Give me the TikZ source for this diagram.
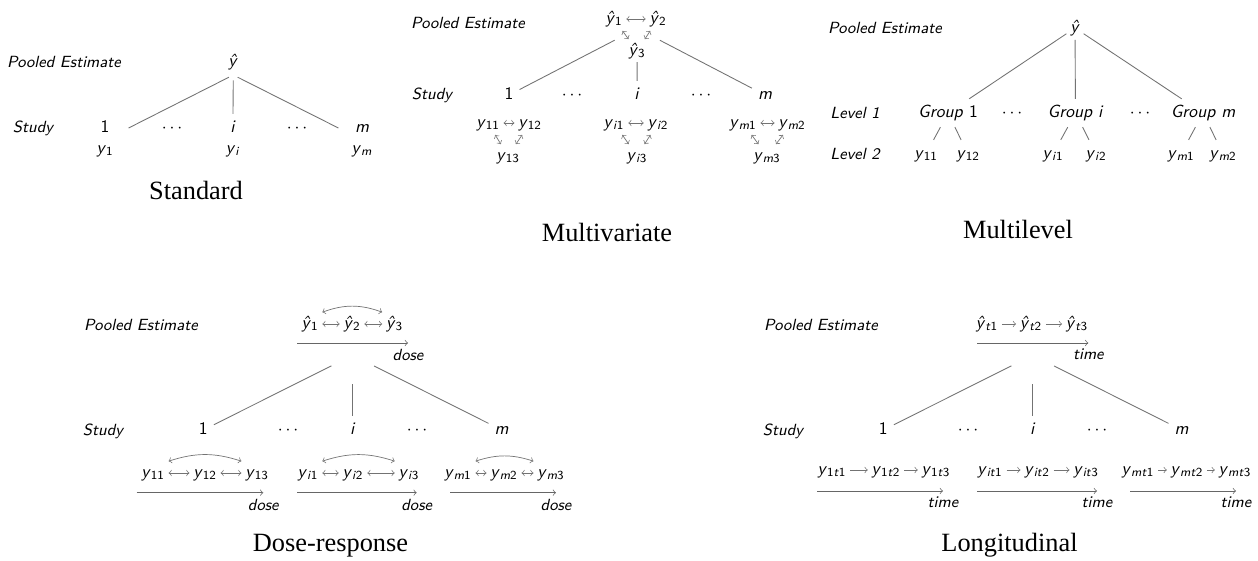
\documentclass[tikz,border=0pt]{standalone}
\usepackage{fontspec}
\newfontfamily\titlefont{Liberation Serif}
\usetikzlibrary{positioning}
\newcommand{\yv}[1]{\textit{y}\textsubscript{#1}}
\newcommand{\yh}[1]{\textit{\^y}\textsubscript{#1}}
\tikzset{
	>=to,
	lbl/.style={font=\fontsize{9.2}{11}\selectfont\sffamily\itshape},
	num/.style={
		font=\fontsize{10}{12}\selectfont\sffamily,
		text height=1.6ex,
		text depth=.5ex},
	var/.style={num, inner sep=2pt},
	ttl/.style={font=\fontsize{15}{18}\selectfont\titlefont},
	hub/.style 2 args={inner sep=0pt, minimum width=#1, minimum height=#2},
	edge/.style={draw=black!55, line width=.5pt},
	dep/.style={draw=black!55, line width=.4pt, <->},
	seq/.style={draw=black!55, line width=.4pt, ->},
	axis/.style={draw=black!60, line width=.4pt, ->},
}
\begin{document}
\begin{tikzpicture}[x=0.02cm, y=-0.02cm]
	\useasboundingbox (0,0) rectangle (1258,561);
	% standard
	\node[lbl] (pA) at (64,62) {Pooled Estimate};
	\node[lbl] (sA) at (33,128) {Study};
	\node[var] (yA) at (233,62) {\textit{\^y}};
	\node[hub={0.16cm}{0.2cm}] (hA) at (233.3,75) {};
	\node[num, minimum width=0.93cm] (nA1) at (105,128) {1};
	\node[num] (dA1) at (172,128) {$\cdots$};
	\node[num] (nAi) at (233,128) {\textit{i}};
	\node[num] (dA2) at (297,128) {$\cdots$};
	\node[num, minimum width=0.93cm] (nAm) at (362,128) {\textit{m}};
	\node[var] (vA1) at (105,149) {\yv{1}};
	\node[var] (vAi) at (233,149) {\yv{\textit{i}}};
	\node[var] (vAm) at (362,149) {\yv{\textit{m}}};
	\draw[edge] (hA) -- (nA1.east);
	\draw[edge] (hA) -- (nAi.north);
	\draw[edge] (hA) -- (nAm.west);
	\node[ttl] (tA) at (196,190) {Standard};

	% multivariate
	\node[lbl] (pB) at (468,23) {Pooled Estimate};
	\node[lbl] (sB) at (432,95) {Study};
	\node[var] (yB1) at (614,19) {\yh{1}};
	\node[var] (yB2) at (658,19) {\yh{2}};
	\node[var] (yB3) at (637,51) {\yh{3}};
	\draw[dep] (yB1) -- (yB2);
	\draw[dep] (yB1) -- (yB3);
	\draw[dep] (yB2) -- (yB3);
	\node[hub={0.89cm}{1.33cm}] (hB) at (637.3,28.5) {};
	\node[num] (nB1) at (509,95) {1};
	\node[num] (dB1) at (572,95) {$\cdots$};
	\node[num] (nBi) at (637,95) {\textit{i}};
	\node[num] (dB2) at (701,95) {$\cdots$};
	\node[num] (nBm) at (765,95) {\textit{m}};
	\draw[edge] (hB) -- (nB1);
	\draw[edge] (hB) -- (nBi);
	\draw[edge] (hB) -- (nBm);
	\node[var] (vB11) at (488,123) {\yv{11}};
	\node[var] (vB12) at (530,123) {\yv{12}};
	\node[var] (vB13) at (508,156) {\yv{13}};
	\draw[dep] (vB11) -- (vB12);
	\draw[dep] (vB11) -- (vB13);
	\draw[dep] (vB12) -- (vB13);
	\node[var] (vBi1) at (614,123) {\yv{\textit{i}1}};
	\node[var] (vBi2) at (658,123) {\yv{\textit{i}2}};
	\node[var] (vBi3) at (637,156) {\yv{\textit{i}3}};
	\draw[dep] (vBi1) -- (vBi2);
	\draw[dep] (vBi1) -- (vBi3);
	\draw[dep] (vBi2) -- (vBi3);
	\node[var] (vBm1) at (743,123) {\yv{\textit{m}1}};
	\node[var] (vBm2) at (792,123) {\yv{\textit{m}2}};
	\node[var] (vBm3) at (767,156) {\yv{\textit{m}3}};
	\draw[dep] (vBm1) -- (vBm2);
	\draw[dep] (vBm1) -- (vBm3);
	\draw[dep] (vBm2) -- (vBm3);
	\node[ttl] (tB) at (607,232) {Multivariate};

	% multilevel
	\node[lbl] (pC) at (885,28) {Pooled Estimate};
	\node[lbl] (lC1) at (855,113) {Level 1};
	\node[lbl] (lC2) at (855,154) {Level 2};
	\node[var] (yC) at (1075,28) {\textit{\^y}};
	\node[num] (gC1) at (948,113) {\textit{Group} 1};
	\node[num] (dC1) at (1012,113) {$\cdots$};
	\node[num] (gCi) at (1075.5,113) {\textit{Group i}};
	\node[num] (dC2) at (1140,113) {$\cdots$};
	\node[num] (gCm) at (1203,113) {\textit{Group m}};
	\draw[edge] (yC) -- (gC1);
	\draw[edge] (yC) -- (gCi);
	\draw[edge] (yC) -- (gCm);
	\node[num] (vC11) at (926,154) {\yv{11}};
	\node[num] (vC12) at (968,154) {\yv{12}};
	\node[num] (vCi1) at (1053,154) {\yv{\textit{i}1}};
	\node[num] (vCi2) at (1096,154) {\yv{\textit{i}2}};
	\node[num] (vCm1) at (1181,154) {\yv{\textit{m}1}};
	\node[num] (vCm2) at (1223,154) {\yv{\textit{m}2}};
	\draw[edge] (gC1) -- (vC11);
	\draw[edge] (gC1) -- (vC12);
	\draw[edge] (gCi) -- (vCi1);
	\draw[edge] (gCi) -- (vCi2);
	\draw[edge] (gCm) -- (vCm1);
	\draw[edge] (gCm) -- (vCm2);
	\node[ttl] (tC) at (1018,229) {Multilevel};

	% dose-response
	\node[lbl] (pD) at (141,325) {Pooled Estimate};
	\node[lbl] (sD) at (103,431) {Study};
	\node[var] (yD1) at (310,324) {\yh{1}};
	\node[var] (yD2) at (352,324) {\yh{2}};
	\node[var] (yD3) at (394.5,324) {\yh{3}};
	\draw[dep] (yD1) -- (yD2);
	\draw[dep] (yD2) -- (yD3);
	\draw[dep] (yD1.north east) to[bend left=20] (yD3.north west);
	\coordinate (aD0) at (297,343);
	\coordinate (aD1) at (408,343);
	\draw[axis] (aD0) -- (aD1);
	\node[lbl, below=0pt of aD1] (xD) {dose};
	\node[hub={0.84cm}{1.15cm}] (hD) at (352.7,355.2) {};
	\node[num] (nD1) at (203.3,430) {1};
	\node[num] (dD1) at (288,430) {$\cdots$};
	\node[num] (nDi) at (352.7,430) {\textit{i}};
	\node[num] (dD2) at (417,430) {$\cdots$};
	\node[num] (nDm) at (501.7,430) {\textit{m}};
	\draw[edge] (hD) -- (nD1);
	\draw[edge] (hD) -- (nDi);
	\draw[edge] (hD) -- (nDm);
	\node[var] (vD11) at (153,473) {\yv{11}};
	\node[var] (vD12) at (205,473) {\yv{12}};
	\node[var] (vD13) at (257,473) {\yv{13}};
	\draw[dep] (vD11) -- (vD12);
	\draw[dep] (vD12) -- (vD13);
	\draw[dep] (vD11.north east) to[bend left=18] (vD13.north west);
	\coordinate (bD0) at (136.7,492.7);
	\coordinate (bD1) at (263.3,492.7);
	\draw[axis] (bD0) -- (bD1);
	\node[lbl, below=0pt of bD1] (xD1) {dose};
	\node[var] (vDi1) at (308,473) {\yv{\textit{i}1}};
	\node[var] (vDi2) at (353,473) {\yv{\textit{i}2}};
	\node[var] (vDi3) at (409,473) {\yv{\textit{i}3}};
	\draw[dep] (vDi1) -- (vDi2);
	\draw[dep] (vDi2) -- (vDi3);
	\draw[dep] (vDi1.north east) to[bend left=18] (vDi3.north west);
	\coordinate (bDi0) at (297.3,492.7);
	\coordinate (bDi1) at (416.7,492.7);
	\draw[axis] (bDi0) -- (bDi1);
	\node[lbl, below=0pt of bDi1] (xDi) {dose};
	\node[var] (vDm1) at (458,473) {\yv{\textit{m}1}};
	\node[var] (vDm2) at (504,473) {\yv{\textit{m}2}};
	\node[var] (vDm3) at (551,473) {\yv{\textit{m}3}};
	\draw[dep] (vDm1) -- (vDm2);
	\draw[dep] (vDm2) -- (vDm3);
	\draw[dep] (vDm1.north east) to[bend left=18] (vDm3.north west);
	\coordinate (bDm0) at (450,492.7);
	\coordinate (bDm1) at (556,492.7);
	\draw[axis] (bDm0) -- (bDm1);
	\node[lbl, below=0pt of bDm1] (xDm) {dose};
	\node[ttl] (tD) at (330.5,546) {Dose-response};

	% longitudinal
	\node[lbl] (pE) at (821,325) {Pooled Estimate};
	\node[lbl] (sE) at (783,431) {Study};
	\node[var] (yE1) at (987,324) {\yh{\textit{t}1}};
	\node[var] (yE2) at (1031,324) {\yh{\textit{t}2}};
	\node[var] (yE3) at (1077,324) {\yh{\textit{t}3}};
	\draw[seq] (yE1) -- (yE2);
	\draw[seq] (yE2) -- (yE3);
	\coordinate (aE0) at (977.3,343);
	\coordinate (aE1) at (1088.3,343);
	\draw[axis] (aE0) -- (aE1);
	\node[lbl, below=0pt of aE1] (xE) {time};
	\node[hub={0.84cm}{1.15cm}] (hE) at (1032.7,355.2) {};
	\node[num] (nE1) at (883.3,430) {1};
	\node[num] (dE1) at (968,430) {$\cdots$};
	\node[num] (nEi) at (1032.7,430) {\textit{i}};
	\node[num] (dE2) at (1097,430) {$\cdots$};
	\node[num] (nEm) at (1181.7,430) {\textit{m}};
	\draw[edge] (hE) -- (nE1);
	\draw[edge] (hE) -- (nEi);
	\draw[edge] (hE) -- (nEm);
	\node[var] (vE11) at (832,470) {\yv{1\textit{t}1}};
	\node[var] (vE12) at (886,470) {\yv{1\textit{t}2}};
	\node[var] (vE13) at (936,470) {\yv{1\textit{t}3}};
	\draw[seq] (vE11) -- (vE12);
	\draw[seq] (vE12) -- (vE13);
	\coordinate (bE0) at (817,491);
	\coordinate (bE1) at (943,491);
	\draw[axis] (bE0) -- (bE1);
	\node[lbl, below=0pt of bE1] (xE1) {time};
	\node[var] (vEi1) at (990,470) {\yv{\textit{it}1}};
	\node[var] (vEi2) at (1037,470) {\yv{\textit{it}2}};
	\node[var] (vEi3) at (1086,470) {\yv{\textit{it}3}};
	\draw[seq] (vEi1) -- (vEi2);
	\draw[seq] (vEi2) -- (vEi3);
	\coordinate (bEi0) at (977,491);
	\coordinate (bEi1) at (1097,491);
	\draw[axis] (bEi0) -- (bEi1);
	\node[lbl, below=0pt of bEi1] (xEi) {time};
	\node[var] (vEm1) at (1138,470) {\yv{\textit{mt}1}};
	\node[var] (vEm2) at (1187,470) {\yv{\textit{mt}2}};
	\node[var] (vEm3) at (1235,470) {\yv{\textit{mt}3}};
	\draw[seq] (vEm1) -- (vEm2);
	\draw[seq] (vEm2) -- (vEm3);
	\coordinate (bEm0) at (1130,491);
	\coordinate (bEm1) at (1236,491);
	\draw[axis] (bEm0) -- (bEm1);
	\node[lbl, below=0pt of bEm1] (xEm) {time};
	\node[ttl] (tE) at (1009.5,545) {Longitudinal};
\end{tikzpicture}
\end{document}
